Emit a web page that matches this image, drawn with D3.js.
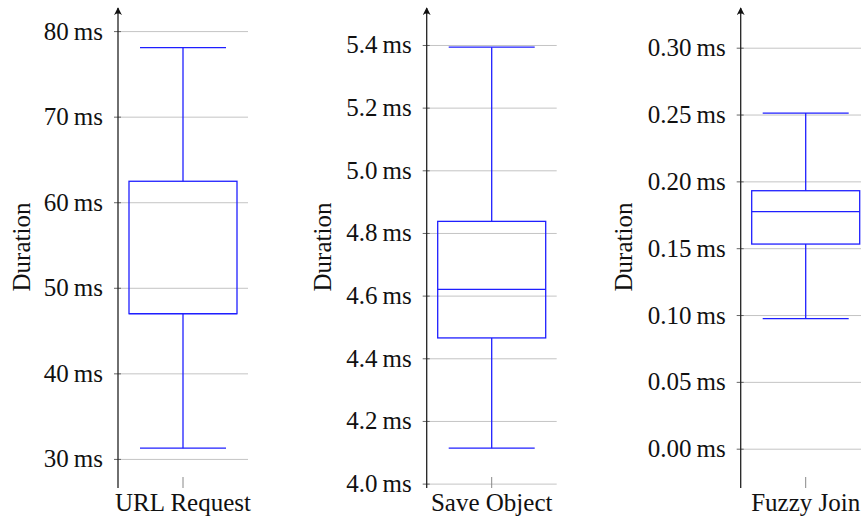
<!DOCTYPE html>
<html>
<head>
<meta charset="utf-8">
<script src="https://cdn.jsdelivr.net/npm/d3@7/dist/d3.min.js"></script>
<style>
  html, body { margin: 0; padding: 0; background: #fff; }
  svg { display: block; }
</style>
</head>
<body>
<svg id="chart" width="861" height="527"></svg>
<script>
// ---- data ----
const categories   = ["URL Request", "Save Object", "Fuzzy Join"];
const whiskerLow   = [31.25, 4.113, 0.0973];
const quartile1    = [46.97, 4.465, 0.1531];
const medians      = [46.97, 4.620, 0.1773];
const quartile3    = [62.45, 4.837, 0.1930];
const whiskerHigh  = [78.06, 5.393, 0.2511];
const yTicks = [
  [30, 40, 50, 60, 70, 80],
  [4.0, 4.2, 4.4, 4.6, 4.8, 5.0, 5.2, 5.4],
  [0.00, 0.05, 0.10, 0.15, 0.20, 0.25, 0.30]
];
const tickFormats = [".0f", ".1f", ".2f"];
const yDomains = [
  [26.6, 82.7],
  [3.986, 5.518],
  [-0.0294, 0.3297]
];
const yLabel = "Duration";
const unit = "\u2009ms";

// ---- layout ----
const FONT = "'Liberation Serif', 'Tinos', 'Times New Roman', 'DejaVu Serif', 'Noto Serif', serif";
const axisX   = [118, 426.7, 740.7];
const labelX  = [21, 322, 623];
const plotW   = 130;
const yTop = 8, yBottom = 488;
const boxW = 108, capW = 86;
const blue = "#1f1fff";

const svg = d3.select("#chart");

svg.append("defs").append("marker")
  .attr("id", "arrow")
  .attr("viewBox", "0 0 10 10")
  .attr("refX", 9).attr("refY", 5)
  .attr("markerWidth", 8).attr("markerHeight", 8)
  .attr("markerUnits", "userSpaceOnUse")
  .attr("orient", "auto")
  .append("path")
  .attr("d", "M0,0 Q4,5 0,10 L10,5 Z")
  .attr("fill", "#111");

categories.forEach((cat, i) => {
  const g = svg.append("g");
  const y = d3.scaleLinear().domain(yDomains[i]).range([yBottom, yTop]);
  const x = d3.scalePoint().domain([cat]).range([axisX[i], axisX[i] + plotW]).padding(0.5);
  const fmt = d3.format(tickFormats[i]);

  // grid lines
  g.append("g")
    .attr("transform", `translate(${axisX[i]},0)`)
    .call(d3.axisRight(y).tickValues(yTicks[i]).tickSize(plotW).tickFormat(""))
    .call(s => s.select(".domain").remove())
    .call(s => s.selectAll("line").attr("stroke", "#c4c4c4").attr("stroke-width", 1));

  // y ticks + labels
  const ya = g.append("g")
    .attr("transform", `translate(${axisX[i]},0)`)
    .call(d3.axisLeft(y).tickValues(yTicks[i]).tickSize(4).tickPadding(11)
      .tickFormat(d => fmt(d) + unit));
  ya.attr("font-family", null).attr("font-size", null);
  ya.select(".domain").remove();
  ya.selectAll("line").attr("stroke", "#666").attr("x2", -4).attr("x1", 3);
  ya.selectAll("text")
    .style("font-family", FONT)
    .style("font-size", "25px")
    .attr("fill", "#111");

  // y axis line with arrow
  g.append("line")
    .attr("x1", axisX[i]).attr("x2", axisX[i])
    .attr("y1", yBottom).attr("y2", yTop)
    .attr("stroke", "#222").attr("stroke-width", 1.3)
    .attr("marker-end", "url(#arrow)");

  // x tick + category label
  g.append("line")
    .attr("x1", x(cat)).attr("x2", x(cat))
    .attr("y1", yBottom - 11).attr("y2", yBottom)
    .attr("stroke", "#888").attr("stroke-width", 1);
  g.append("text")
    .attr("x", x(cat)).attr("y", 511)
    .attr("text-anchor", "middle")
    .style("font-family", FONT)
    .style("font-size", "25px")
    .attr("fill", "#111")
    .text(cat);

  // y label
  g.append("text")
    .attr("transform", `translate(${labelX[i]},247) rotate(-90)`)
    .attr("text-anchor", "middle")
    .attr("dominant-baseline", "central")
    .style("font-family", FONT)
    .style("font-size", "25px")
    .attr("fill", "#111")
    .text(yLabel);

  // box plot
  const cx = x(cat);
  const bp = g.append("g").attr("stroke", blue).attr("stroke-width", 1.3).attr("fill", "none");
  bp.append("line").attr("x1", cx).attr("x2", cx).attr("y1", y(whiskerHigh[i])).attr("y2", y(quartile3[i]));
  bp.append("line").attr("x1", cx).attr("x2", cx).attr("y1", y(quartile1[i])).attr("y2", y(whiskerLow[i]));
  bp.append("line").attr("x1", cx - capW / 2).attr("x2", cx + capW / 2).attr("y1", y(whiskerHigh[i])).attr("y2", y(whiskerHigh[i]));
  bp.append("line").attr("x1", cx - capW / 2).attr("x2", cx + capW / 2).attr("y1", y(whiskerLow[i])).attr("y2", y(whiskerLow[i]));
  bp.append("rect")
    .attr("x", cx - boxW / 2).attr("width", boxW)
    .attr("y", y(quartile3[i])).attr("height", y(quartile1[i]) - y(quartile3[i]));
  bp.append("line").attr("x1", cx - boxW / 2).attr("x2", cx + boxW / 2).attr("y1", y(medians[i])).attr("y2", y(medians[i]));
});
</script>
</body>
</html>
